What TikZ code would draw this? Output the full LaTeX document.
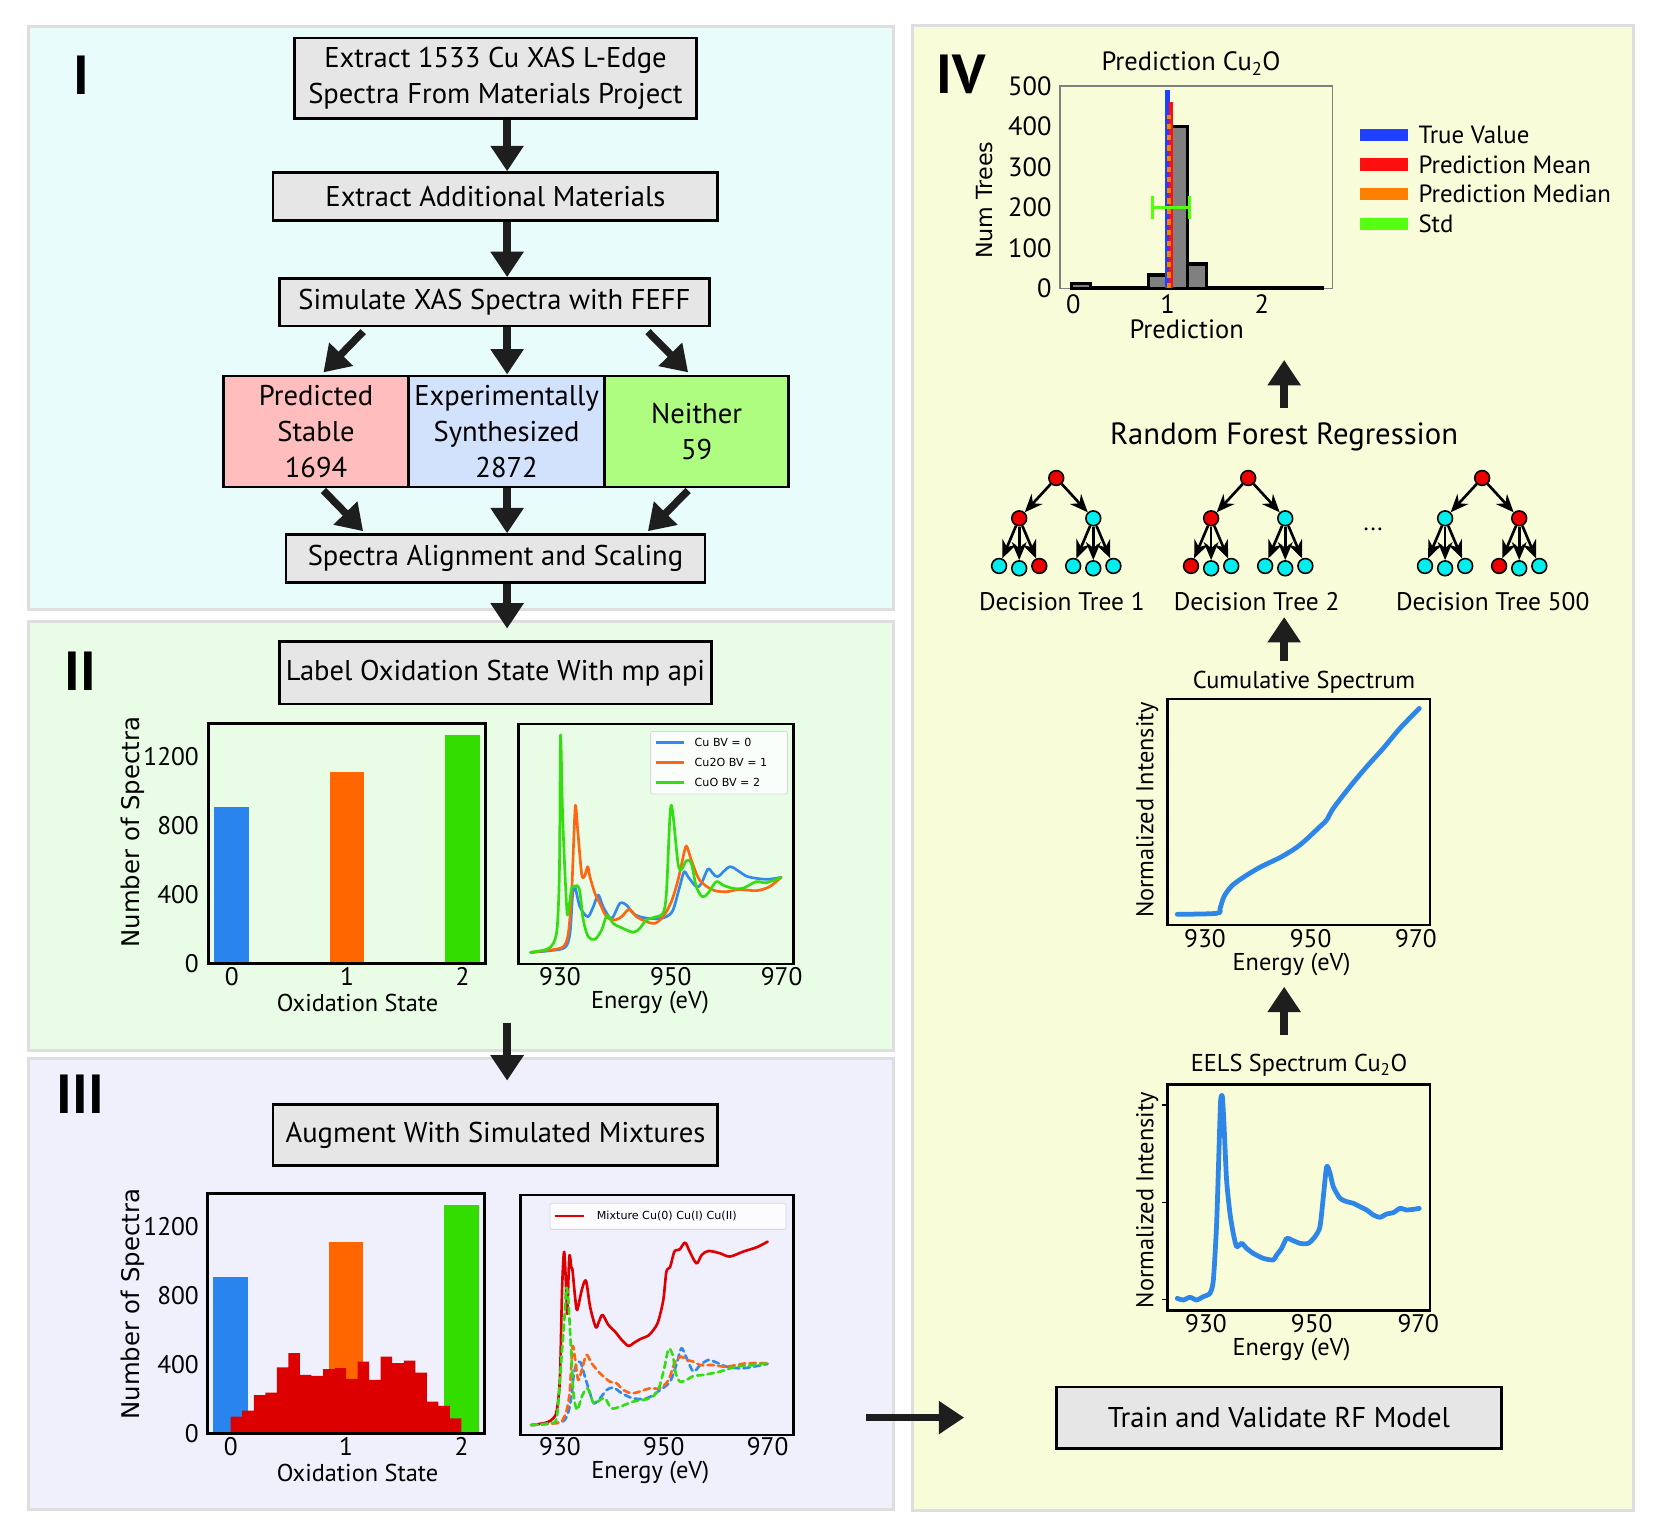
\documentclass[tikz,border=0pt]{standalone}
\usepackage{fontspec}
\setmainfont{PT Sans}
\newfontfamily\mplfont{DejaVu Sans}
\usetikzlibrary{arrows.meta, positioning}

\definecolor{panelone}{RGB}{233,252,252}
\definecolor{paneltwo}{RGB}{232,252,230}
\definecolor{panelthree}{RGB}{240,240,252}
\definecolor{panelfour}{RGB}{248,252,216}
\definecolor{panelrim}{RGB}{222,222,222}
\definecolor{boxgray}{RGB}{230,230,230}
\definecolor{predpink}{RGB}{255,189,189}
\definecolor{expblue}{RGB}{210,226,252}
\definecolor{neithergreen}{RGB}{174,253,128}
\definecolor{arrowblack}{RGB}{30,30,30}
\definecolor{barblue}{RGB}{42,132,238}
\definecolor{barorange}{RGB}{255,102,0}
\definecolor{bargreen}{RGB}{51,221,0}
\definecolor{mixred}{RGB}{221,0,0}
\definecolor{specblue}{RGB}{51,136,238}
\definecolor{specorange}{RGB}{255,102,17}
\definecolor{specgreen}{RGB}{51,221,17}
\definecolor{truebl}{RGB}{32,64,255}
\definecolor{meanred}{RGB}{255,16,16}
\definecolor{medorange}{RGB}{255,128,0}
\definecolor{stdgreen}{RGB}{85,255,17}
\definecolor{nodered}{RGB}{238,0,0}
\definecolor{nodecyan}{RGB}{0,238,238}
\definecolor{histgray}{RGB}{128,128,128}
\definecolor{eelsblue}{RGB}{46,134,232}

\newcommand{\boxfont}{\fontsize{27}{34}\selectfont}

\tikzset{
  panel/.style={draw=panelrim, line width=2.5pt},
  stepbox/.style={draw=black, line width=2.5pt, fill=boxgray, font=\boxfont, align=center, inner sep=0pt},
  bigarrow/.style={draw=arrowblack, line width=7pt, -{Triangle[length=24pt,width=30pt]}},
  panellabel/.style={font=\fontsize{52}{52}\selectfont\bfseries, inner sep=0pt},
  lbl/.style={font=\fontsize{23}{27}\selectfont, inner sep=0pt},
  ticklbl/.style={font=\fontsize{24}{27}\selectfont, inner sep=0pt},
  histlbl/.style={font=\fontsize{25}{28}\selectfont, inner sep=0pt},
  mpllbl/.style={font=\mplfont\fontsize{23}{26}\selectfont, inner sep=0pt, rotate=90},
  legendtxt/.style={font=\mplfont\fontsize{10.5}{12}\selectfont, inner sep=0pt, anchor=west},
  legendbox/.style={fill=white, fill opacity=0.8, draw=black!15, line width=0.8pt, rounded corners=2pt},
  axisframe/.style={draw=black, line width=2.5pt},
  spec/.style={line width=2.5pt, line join=round, line cap=round},
  thickspec/.style={draw=eelsblue, line width=4.5pt, line join=round, line cap=round},
  histbar/.style={fill=histgray, draw=black, line width=3pt},
  treenode/.style={circle, draw=black, line width=1.5pt, minimum size=14pt, inner sep=0pt},
  treearrow/.style={line width=2.5pt, -{Stealth[length=17pt,width=14pt]}}
}

\begin{document}
\begin{tikzpicture}[x=1pt, y=-1pt]
  \useasboundingbox (0,0) rectangle (1568,1443);
  \fill[white] (0,0) rectangle (1568,1443);

  % Panels
  \filldraw[panel, fill=panelone] (27,25) rectangle (844,576);
  \filldraw[panel, fill=paneltwo] (27,587) rectangle (844,992);
  \filldraw[panel, fill=panelthree] (27,1000) rectangle (844,1426);
  \filldraw[panel, fill=panelfour] (862,24) rectangle (1543,1427);

  \node[panellabel] (labI) at (77,71) {I};
  \node[panellabel] (labII) at (76,634) {II};
  \node[panellabel] (labIII) at (76,1034) {III};
  \node[panellabel] (labIV) at (908,70) {IV};

  % Steps
  \node[stepbox, minimum width=380pt, minimum height=76pt] (extract) at (468,74) {Extract 1533 Cu XAS L-Edge\\Spectra From Materials Project};
  \node[stepbox, minimum width=420pt, minimum height=45pt] (additional) at (468,185.5) {Extract Additional Materials};
  \node[stepbox, minimum width=406pt, minimum height=45pt] (simulate) at (467,285.5) {Simulate XAS Spectra with FEFF};
  \node[stepbox, fill=predpink, minimum width=175pt, minimum height=105pt] (stable) at (298.5,407.5) {Predicted\\Stable\\1694};
  \node[stepbox, fill=expblue, minimum width=185pt, minimum height=105pt] (synth) at (478.5,407.5) {Experimentally\\Synthesized\\2872};
  \node[stepbox, fill=neithergreen, minimum width=174pt, minimum height=105pt] (neither) at (658,407.5) {Neither\\59};
  \node[stepbox, minimum width=396pt, minimum height=45pt] (align) at (468,527.5) {Spectra Alignment and Scaling};
  \node[stepbox, minimum width=408pt, minimum height=59pt] (oxlabel) at (468,635.5) {Label Oxidation State With mp api};
  \node[stepbox, minimum width=420pt, minimum height=58pt] (augment) at (468,1072) {Augment With Simulated Mixtures};
  \node[stepbox, minimum width=420pt, minimum height=58pt] (train) at (1208,1339) {Train and Validate RF Model};

  % Arrows
  \coordinate (spine) at (479,0);
  \draw[bigarrow] (extract.south -| spine) -- (additional.north -| spine);
  \draw[bigarrow] (additional.south -| spine) -- (simulate.north -| spine);
  \draw[bigarrow] ([xshift=-124pt,yshift=-4pt]simulate.south) -- ([xshift=7pt,yshift=2pt]stable.north);
  \draw[bigarrow] (simulate.south -| spine) -- (synth.north -| spine);
  \draw[bigarrow] ([xshift=145pt,yshift=-4pt]simulate.south) -- ([xshift=-8pt,yshift=2pt]neither.north);
  \draw[bigarrow] ([xshift=7pt,yshift=-2pt]stable.south) -- ([xshift=-125pt,yshift=2pt]align.north);
  \draw[bigarrow] (synth.south -| spine) -- (align.north -| spine);
  \draw[bigarrow] ([xshift=-8pt,yshift=-2pt]neither.south) -- ([xshift=144pt,yshift=2pt]align.north);
  \draw[bigarrow, shorten >=11pt] (align.south -| spine) -- (oxlabel.north -| spine);
  \coordinate (twoout) at (479,966);
  \draw[bigarrow, shorten >=21pt] (twoout) -- (augment.north -| spine);
  \coordinate (threeout) at (818,1339);
  \draw[bigarrow, shorten >=86pt] (threeout) -- (train.west);

  % Panel II bars
  \begin{scope}[shift={(218.9,909.9)}, x={(109pt,0pt)}, y={(0pt,0.1627pt)}]
    \fill[barblue] (-0.15,0) rectangle (0.15,910);
    \fill[barorange] (0.85,0) rectangle (1.15,1112);
    \fill[bargreen] (1.85,0) rectangle (2.15,1325);
    \draw[axisframe] (-0.2,0) rectangle (2.2,1393);
  \end{scope}
  \foreach \v in {0,400,800,1200}
    \node[ticklbl, anchor=east] (iiy\v) at (188,909.9-0.1627*\v) {\v};
  \foreach \k/\xx in {0/218.9,1/327.9,2/436.9}
    \node[ticklbl] (iix\k) at (\xx,922) {\k};
  \node[lbl] (iixlab) at (337.7,947) {Oxidation State};
  \node[mpllbl] (iiylab) at (125.3,786) {Number of Spectra};

  % Panel II spectra
  \begin{scope}[shift={(528.95,910.6)}, x={(5.234pt,0pt)}, y={(0pt,1pt)}, shift={(-930,0)}]
    \draw[spec, specblue] plot[smooth, tension=0.5] coordinates {(924.7,11) (928.2,12.6) (930.9,15.7) (931.8,29) (932.3,66.8) (932.7,73) (933.6,54) (935,44.7) (936,54) (936.9,65.2) (937.8,54) (939.3,43) (940.8,57.3) (942,55.7) (943.2,47.9) (944.4,44.7) (946.2,43) (948,43) (949.2,44.7) (950.4,51) (951.6,73) (952.4,87.2) (953.1,82.5) (954.6,73) (955.5,76) (956.7,89.7) (957.6,85.6) (958.5,82.5) (960.6,91.9) (962.4,87.2) (963.9,82.5) (967.2,80) (969.9,81.9)};
    \draw[spec, specorange] plot[smooth, tension=0.5] coordinates {(924.7,11) (928.2,13.2) (930.6,16.4) (931.5,29) (932.1,66.8) (932.5,120) (932.8,150) (933.2,126.6) (933.9,85.6) (934.4,82.5) (935,92) (935.4,82.5) (936.3,66.8) (937.2,57.3) (938.4,44.7) (939.9,41.6) (941.1,44.7) (942.5,51.6) (943.8,44.7) (945.6,40) (947.1,38.4) (948.6,44.7) (950.1,58.9) (951.3,79.3) (952.1,98.2) (952.8,111.5) (953.7,98.2) (955.2,79.3) (957.6,69.9) (960,68.3) (962.4,70.5) (965.4,69.3) (967.8,73) (969.9,81.9)};
    \draw[spec, specgreen] plot[smooth, tension=0.5] coordinates {(924.7,11) (927.6,13.9) (928.8,19.5) (929.5,35) (929.9,89) (930.1,216) (930.5,136) (931.2,54) (931.5,49.4) (932.1,71.5) (932.7,73) (933.1,74) (933.6,68) (934.2,41.6) (935.1,25.8) (936.3,23.3) (937.5,32) (938.5,46) (939.6,38.4) (940.8,35) (943.2,30) (944.4,33.7) (945.6,41.6) (947.4,44.7) (948.6,47.9) (949.2,66.8) (949.8,136) (950.1,150) (950.5,136) (951.3,95) (951.9,89) (952.8,97.6) (953.7,95) (954.6,73) (955.7,63.6) (956.7,66.8) (958.2,77.8) (959.4,74.6) (961.2,71.5) (963,71.5) (965.4,77.8) (967.2,76.8) (969.9,81.9)};
  \end{scope}
  \draw[axisframe] (489.6,683.9) rectangle (749.3,910.6);
  \draw[legendbox] (614.6,691) rectangle (743.7,750);
  \draw[spec, specblue, line cap=butt] (620,701.5) -- (646,701.5);
  \draw[spec, specorange, line cap=butt] (620,720.4) -- (646,720.4);
  \draw[spec, specgreen, line cap=butt] (620,739.3) -- (646,739.3);
  \node[legendtxt] (legcu) at (656,701.5) {Cu BV = 0};
  \node[legendtxt] (legcutwo) at (656,720.4) {Cu2O BV = 1};
  \node[legendtxt] (legcuo) at (656,739.3) {CuO BV = 2};
  \foreach \e/\xx in {930/528.95,950/633.6,970/738.3}
    \node[ticklbl] (iie\e) at (\xx,922) {\e};
  \node[lbl] (iielab) at (614,947) {Energy (eV)};

  % Panel III bars with mixtures
  \begin{scope}[shift={(217.9,1353.8)}, x={(109pt,0pt)}, y={(0pt,0.1626pt)}]
    \fill[barblue] (-0.15,0) rectangle (0.15,910);
    \fill[barorange] (0.85,0) rectangle (1.15,1113);
    \fill[bargreen] (1.85,0) rectangle (2.15,1326);
    \fill[mixred] (0,0) -- (0,97) -- (0.1,97) -- (0.1,132) -- (0.2,132) -- (0.2,221) -- (0.3,221) -- (0.3,236) -- (0.4,236) -- (0.4,383) -- (0.5,383) -- (0.5,465) -- (0.6,465) -- (0.6,339) -- (0.7,339) -- (0.7,333) -- (0.8,333) -- (0.8,372) -- (0.9,372) -- (0.9,378) -- (1.0,378) -- (1.0,316) -- (1.1,316) -- (1.1,416) -- (1.2,416) -- (1.2,310) -- (1.3,310) -- (1.3,445) -- (1.4,445) -- (1.4,407) -- (1.5,407) -- (1.5,422) -- (1.6,422) -- (1.6,352) -- (1.7,352) -- (1.7,184) -- (1.8,184) -- (1.8,159) -- (1.9,159) -- (1.9,87) -- (2.0,87) -- (2.0,0) -- cycle;
    \draw[axisframe] (-0.2,0) rectangle (2.2,1394);
  \end{scope}
  \foreach \v in {0,400,800,1200}
    \node[ticklbl, anchor=east] (iiiy\v) at (188,1353.8-0.1626*\v) {\v};
  \foreach \k/\xx in {0/217.9,1/326.9,2/435.9}
    \node[ticklbl] (iiix\k) at (\xx,1366) {\k};
  \node[lbl] (iiixlab) at (337.7,1391) {Oxidation State};
  \node[mpllbl] (iiiylab) at (125.3,1232) {Number of Spectra};

  % Panel III spectra
  \begin{scope}[shift={(528.95,1355.4)}, x={(4.904pt,0pt)}, y={(0pt,1pt)}, shift={(-930,0)}]
    \draw[spec, mixred] plot[smooth, tension=0.5] coordinates {(924.7,9.4) (927.4,11.7) (928.7,15.7) (929.4,23.6) (930,55) (930.4,137) (930.8,173) (931.2,137) (931.4,115) (931.8,168.5) (932.2,157.4) (932.4,156) (932.9,130.7) (933.3,118) (934.2,137) (935,145.8) (935.8,121) (936.9,101.7) (937.5,107) (938.2,113.4) (939.3,104) (940.6,97.6) (941.9,89.7) (943.2,84) (944.1,86.5) (945.4,90.4) (947,93.8) (948,99.2) (948.9,107) (949.9,127.5) (950.5,154.3) (951.2,158.4) (952,173) (952.6,174.6) (953.1,175.4) (954.1,181.7) (955,173) (956.3,162) (957.3,170) (958.6,173.8) (960.8,171.6) (962.7,168.5) (965.3,173.2) (967.9,177.3) (970,182.6)};
    \draw[spec, specblue, dash pattern=on 6pt off 4pt] plot[smooth, tension=0.5] coordinates {(924.4,9.4) (930,12) (931.3,17.3) (932.1,33) (932.7,58.3) (933.3,67.7) (934,68.3) (934.8,55) (935.6,42.5) (936.5,30) (937.7,34.6) (939,42.5) (940.3,44.7) (941.9,39.4) (944.1,34.6) (946.7,34.6) (949.3,42.5) (951.2,50.4) (952.5,67.7) (953.4,81.9) (954.4,72.4) (955.7,59.8) (957,66) (958.6,70.8) (960.2,68.3) (962.1,64.5) (965.3,63) (970,67.1)};
    \draw[spec, specorange, dash pattern=on 6pt off 4pt] plot[smooth, tension=0.5] coordinates {(924.4,9.4) (929,11) (930.3,12.6) (931.3,23.6) (931.9,42.5) (932.4,83.4) (932.9,72.4) (933.5,52) (934.2,61.4) (935.1,75.6) (936.1,67.7) (937.7,58.3) (939.6,50.4) (940.9,48.8) (942.2,42.5) (944.1,39.4) (947.3,44) (949.3,44) (950.9,52) (952.2,69.3) (953.4,74) (954.4,70.8) (955.7,69.3) (957,66) (959.5,66) (962.1,64.5) (965.9,67.7) (970,67.7)};
    \draw[spec, specgreen, dash pattern=on 6pt off 4pt] plot[smooth, tension=0.5] coordinates {(924.4,9.4) (928,11) (929.4,17.3) (930.3,74) (930.8,105.5) (931.2,138.5) (931.6,127.5) (932.1,83.4) (932.6,39.4) (933.3,23.6) (934.2,36.2) (935.3,44) (936.5,30) (937.7,33) (938.7,34.6) (939.9,25.2) (941.6,26.8) (944.1,31.5) (947.3,34.6) (948.9,42.5) (950,61.4) (950.9,81) (951.7,75.6) (952.3,58.3) (953.1,50.4) (954.4,52) (955.7,55.7) (957.6,56.7) (960.8,59.8) (964,64.5) (967.2,66) (970,67.7)};
  \end{scope}
  \draw[axisframe] (491.8,1128.7) rectangle (749.3,1355.4);
  \draw[legendbox] (519.5,1136.6) rectangle (742.4,1161.2);
  \draw[spec, mixred, line cap=butt] (524,1148.6) -- (552,1148.6);
  \node[legendtxt] (legmix) at (563.6,1148.6) {Mixture Cu(0) Cu(I) Cu(II)};
  \foreach \e/\xx in {930/528.95,950/627.0,970/725.1}
    \node[ticklbl] (iiie\e) at (\xx,1366) {\e};
  \node[lbl] (iiielab) at (614.3,1391) {Energy (eV)};

  % Panel IV histogram
  \begin{scope}[shift={(1013.8,272.3)}, x={(89pt,0pt)}, y={(0pt,0.3822pt)}]
    \draw[draw=gray, line width=1.2pt] (-0.1416,0) rectangle (2.753,500);
    \foreach \a/\b/\c in {-0.02/0.185/12, 0.185/0.389/1, 0.389/0.594/2, 0.594/0.799/1, 0.799/1.003/33, 1.003/1.208/400, 1.208/1.413/60, 1.413/1.618/1, 1.618/1.822/1, 1.822/2.027/1, 2.027/2.232/1, 2.232/2.436/1, 2.436/2.641/1}
      \filldraw[histbar] (\a,0) rectangle (\b,\c);
    \draw[truebl, line width=4pt] (1.0,0) -- (1.0,490);
    \draw[meanred, line width=3.5pt] (1.04,0) -- (1.04,461);
    \draw[medorange, line width=3.5pt, dash pattern=on 5pt off 5pt] (1.015,0) -- (1.015,428);
    \draw[stdgreen, line width=3pt] (0.844,200) -- (1.234,200) (0.844,171) -- (0.844,229) (1.234,171) -- (1.234,229);
  \end{scope}
  \foreach \v in {0,100,200,300,400,500}
    \node[histlbl, anchor=east] (ivy\v) at (993.4,272.3-0.3822*\v) {\v};
  \foreach \k/\xx in {0/1013.8,1/1102.8,2/1191.8}
    \node[histlbl] (ivx\k) at (\xx,287.5) {\k};
  \node[histlbl] (predtitle) at (1125,60) {Prediction Cu\textsubscript{2}O};
  \node[histlbl] (predx) at (1120.9,311) {Prediction};
  \node[mpllbl, font=\mplfont\fontsize{21}{24}\selectfont] (numtrees) at (930.4,189) {Num Trees};

  \fill[truebl] (1284.6,122) rectangle (1329.6,133.6);
  \fill[meanred] (1284.6,149.7) rectangle (1329.6,161.3);
  \fill[medorange] (1284.6,177.7) rectangle (1329.6,189.3);
  \fill[stdgreen] (1284.6,205.8) rectangle (1329.6,217.4);
  \node[lbl, anchor=west, font=\fontsize{23.5}{27}\selectfont] (legtrue) at (1339.7,127.8) {True Value};
  \node[lbl, anchor=west, font=\fontsize{23.5}{27}\selectfont] (legmean) at (1339.7,155.5) {Prediction Mean};
  \node[lbl, anchor=west, font=\fontsize{23.5}{27}\selectfont] (legmedian) at (1339.7,183.5) {Prediction Median};
  \node[lbl, anchor=west, font=\fontsize{23.5}{27}\selectfont] (legstd) at (1339.7,211.6) {Std};

  % Random forest
  \coordinate (rspine) at (1213,0);
  \node[font=\fontsize{29}{33}\selectfont, inner sep=0pt] (rf) at (1213,413) {Random Forest Regression};
  \draw[bigarrow] (rf) ++(0,-28) -- ++(0,-45);

  \foreach \t/\rx/\lx/\cA/\cB/\cC/\cD/\cE/\cF/\cG/\cH in {
      1/997.7/1003/nodered/nodecyan/nodecyan/nodecyan/nodered/nodecyan/nodecyan/nodecyan,
      2/1179/1187/nodered/nodecyan/nodered/nodecyan/nodecyan/nodecyan/nodecyan/nodecyan,
      500/1400/1410/nodecyan/nodered/nodecyan/nodecyan/nodecyan/nodered/nodecyan/nodecyan}{
    \node[treenode, fill=nodered] (root\t) at (\rx,451.5) {};
    \node[treenode, fill=\cA] (left\t) at (\rx-35,489.6) {};
    \node[treenode, fill=\cB] (right\t) at (\rx+35,489.6) {};
    \node[treenode, fill=\cC] (lla\t) at (\rx-54,534.6) {};
    \node[treenode, fill=\cD] (llb\t) at (\rx-35,536.8) {};
    \node[treenode, fill=\cE] (llc\t) at (\rx-16,534.6) {};
    \node[treenode, fill=\cF] (rla\t) at (\rx+16,534.6) {};
    \node[treenode, fill=\cG] (rlb\t) at (\rx+35,536.8) {};
    \node[treenode, fill=\cH] (rlc\t) at (\rx+54,534.6) {};
    \draw[treearrow] (root\t) -- (left\t);
    \draw[treearrow] (root\t) -- (right\t);
    \draw[treearrow] (left\t) -- (lla\t);
    \draw[treearrow] (left\t) -- (llb\t);
    \draw[treearrow] (left\t) -- (llc\t);
    \draw[treearrow] (right\t) -- (rla\t);
    \draw[treearrow] (right\t) -- (rlb\t);
    \draw[treearrow] (right\t) -- (rlc\t);
    \node[lbl, font=\fontsize{24}{27}\selectfont] (dtree\t) at (\lx,568) {Decision Tree \t};
  }
  \node[lbl] (dots) at (1297,500) {...};

  % Cumulative spectrum
  \node[lbl] (cumtitle) at (1231.7,644.8) {Cumulative Spectrum};
  \draw[bigarrow] (cumtitle -| rspine) ++(0,-20) -- ++(0,-42);
  \draw[thickspec] plot[smooth, tension=0.5] coordinates {(1112.0,863.6) (1149.2,862.7) (1152.4,858.0) (1156.1,847.0) (1163.4,836.9) (1174.4,828.7) (1190.1,819.2) (1210.6,809.2) (1227.9,798.1) (1246.8,780.8) (1253.1,774.5) (1259.4,763.5) (1275.1,743.1) (1290.9,724.2) (1306.6,706.8) (1322.4,687.9) (1340.6,669.1)};
  \draw[axisframe] (1103,660.3) rectangle (1350.7,873.7);
  \foreach \e/\xx in {930/1138.2,950/1238,970/1337.5}
    \node[ticklbl] (cume\e) at (\xx,887) {\e};
  \node[lbl] (cumxlab) at (1220,911.5) {Energy (eV)};
  \node[lbl, rotate=90] (cumylab) at (1083.7,765) {Normalized Intensity};

  % EELS spectrum
  \node[lbl] (eelstitle) at (1227,1006) {EELS Spectrum Cu\textsubscript{2}O};
  \draw[bigarrow] (eelstitle -| rspine) ++(0,-28) -- ++(0,-46);
  \draw[thickspec] plot[smooth, tension=0.4] coordinates {(1112.0,1226.4) (1117.7,1227.9) (1124.0,1225.4) (1130.3,1227.9) (1136.6,1224.8) (1142.9,1221.6) (1146.1,1209.0) (1149.2,1155.5) (1151.7,1076.8) (1153.0,1039.0) (1154.6,1035.9) (1156.1,1061.1) (1158.6,1114.6) (1161.8,1146.1) (1164.9,1165.0) (1168.1,1177.6) (1172.8,1174.4) (1177.5,1179.1) (1183.8,1183.9) (1193.3,1188.6) (1202.7,1190.1) (1205.9,1185.4) (1210.6,1179.1) (1215.3,1169.7) (1220.0,1171.2) (1227.9,1174.4) (1235.8,1174.4) (1242.1,1168.1) (1246.8,1158.7) (1250.0,1130.3) (1253.1,1102.0) (1256.3,1108.3) (1259.4,1120.9) (1265.7,1131.9) (1272.0,1135.0) (1278.3,1136.6) (1284.6,1139.8) (1290.9,1142.9) (1297.2,1147.6) (1303.5,1149.8) (1309.8,1146.7) (1316.1,1145.4) (1322.4,1141.4) (1328.7,1142.9) (1335.0,1142.3) (1340.6,1141.4)};
  \draw[axisframe] (1103,1024.2) rectangle (1350.7,1238);
  \foreach \yy in {1043.7,1135.7,1227.3}
    \draw[line width=1.2pt] (1103,\yy) -- (1098,\yy);
  \foreach \e/\xx in {930/1139.1,950/1239,970/1339.7}
    \node[ticklbl] (eelse\e) at (\xx,1250.5) {\e};
  \node[lbl] (eelsxlab) at (1220,1275) {Energy (eV)};
  \node[lbl, rotate=90] (eelsylab) at (1083.7,1133.5) {Normalized Intensity};
\end{tikzpicture}
\end{document}
